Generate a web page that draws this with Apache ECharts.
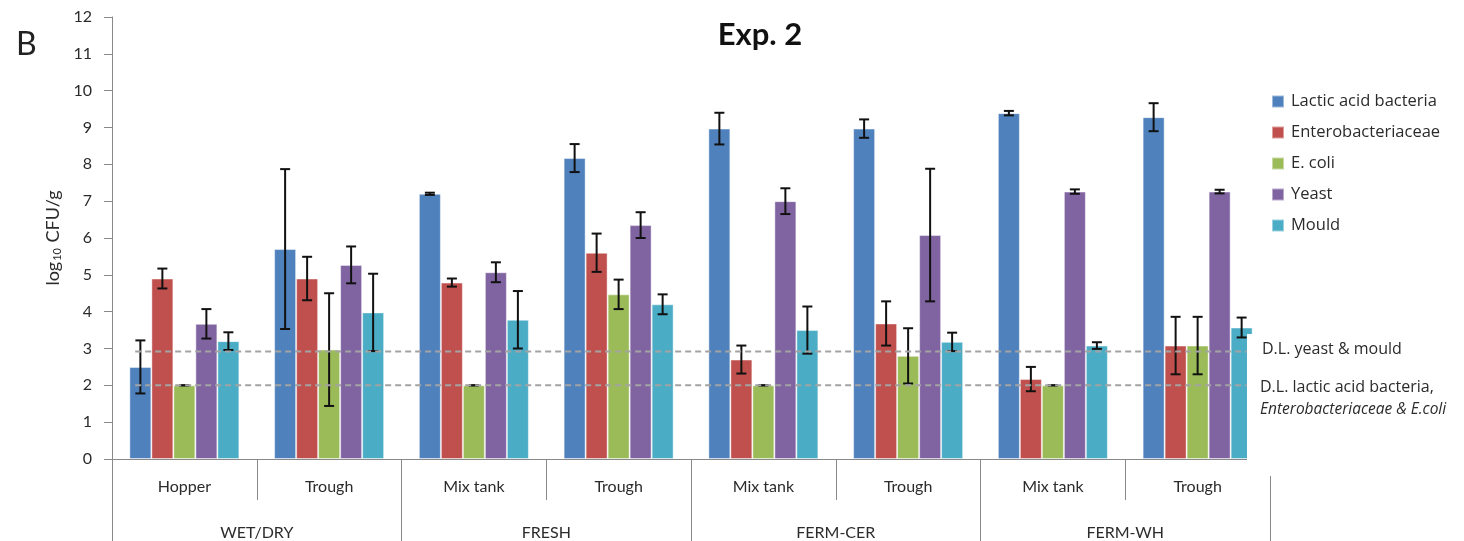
<!DOCTYPE html>
<html><head><meta charset="utf-8">
<script src="https://cdn.jsdelivr.net/npm/echarts@6/dist/echarts.min.js"></script>
<style>html,body{margin:0;padding:0;background:#fff}#c{width:1464px;height:541px}</style>
</head><body><div id="c"></div>
<script>
const categories = ['Hopper', 'Trough', 'Mix tank', 'Trough', 'Mix tank', 'Trough', 'Mix tank', 'Trough'];
const groups = ['WET/DRY', 'FRESH', 'FERM-CER', 'FERM-WH'];
const seriesNames = ['Lactic acid bacteria', 'Enterobacteriaceae', 'E. coli', 'Yeast', 'Mould'];
const lab   = [2.5, 5.7, 7.2, 8.17, 8.97, 8.97, 9.39, 9.28];
const ent   = [4.9, 4.9, 4.79, 5.6, 2.7, 3.68, 2.17, 3.08];
const ecoli = [2.0, 2.97, 2.0, 4.47, 2.0, 2.8, 2.0, 3.08];
const yeast = [3.67, 5.27, 5.07, 6.35, 7.0, 6.08, 7.26, 7.26];
const mould = [3.2, 3.98, 3.78, 4.2, 3.5, 3.18, 3.08, 3.57];
const labErr   = [0.72, 2.17, 0.03, 0.38, 0.43, 0.25, 0.06, 0.38];
const entErr   = [0.27, 0.59, 0.11, 0.52, 0.38, 0.6, 0.33, 0.78];
const ecoliErr = [0, 1.53, 0, 0.4, 0, 0.75, 0, 0.78];
const yeastErr = [0.4, 0.5, 0.27, 0.35, 0.35, 1.8, 0.06, 0.05];
const mouldErr = [0.24, 1.05, 0.78, 0.27, 0.64, 0.25, 0.09, 0.27];
const dlValues = [2.92, 2.0];
const dlRange = [0.16, 7.84];
const yTicks = [0, 12, 1];

const colors = ['#4f81bd', '#c0504d', '#9bbb59', '#8064a2', '#4bacc6'];
const values = [lab, ent, ecoli, yeast, mould];
const errs = [labErr, entErr, ecoliErr, yeastErr, mouldErr];
const FONT = 'Lato, "Liberation Sans", sans-serif';
const FONT2 = '"Open Sans", Lato, sans-serif';
const gapRatio = 0.24;
const axisGrey = '#898989';
const textCol = '#2b2b2b';

const errData = [];
values.forEach((arr, s) => arr.forEach((v, i) => errData.push([i, v - errs[s][i], v + errs[s][i], s])));

const series = values.map((arr, s) => ({
  name: seriesNames[s], type: 'bar', data: arr,
  barGap: '0%', barCategoryGap: (gapRatio * 100) + '%',
  itemStyle: { color: colors[s], borderColor: 'rgba(255,255,255,0.45)', borderWidth: 1 },
  z: 2
}));

series.push({
  type: 'custom', name: 'err', data: errData, z: 5,
  encode: { x: 0, y: [1, 2] },
  renderItem: function (params, api) {
    const cat = api.value(0), lo = api.value(1), hi = api.value(2), s = api.value(3);
    const band = api.size([1, 0])[0];
    const used = band * (1 - gapRatio);
    const bw = used / values.length;
    const c = api.coord([cat, lo]);
    const x = c[0] - used / 2 + bw * (s + 0.5);
    const yLo = c[1];
    const yHi = api.coord([cat, hi])[1];
    const cap = 5;
    const st = { stroke: '#111', lineWidth: 2 };
    return { type: 'group', children: [
      { type: 'line', shape: { x1: x, y1: yHi, x2: x, y2: yLo }, style: st },
      { type: 'line', shape: { x1: x - cap, y1: yHi, x2: x + cap, y2: yHi }, style: st },
      { type: 'line', shape: { x1: x - cap, y1: yLo, x2: x + cap, y2: yLo }, style: st }
    ]};
  }
});

dlValues.forEach(v => series.push({
  type: 'line', xAxisIndex: 2, data: [[dlRange[0], v], [dlRange[1], v]],
  symbol: 'none', silent: true, z: 6,
  lineStyle: { color: '#a3a3a3', width: 2, type: [6, 4] }
}));

const chart = echarts.init(document.getElementById('c'), null, { renderer: 'canvas' });
chart.setOption({
  animation: false,
  color: colors,
  grid: { left: 112, right: 194, top: 17, bottom: 79, containLabel: false },
  legend: {
    data: seriesNames, orient: 'vertical', left: 1271, top: 93,
    itemWidth: 12, itemHeight: 12, itemGap: 14, icon: 'rect', padding: 0,
    textStyle: { fontFamily: FONT2, fontSize: 16.5, color: textCol, padding: [0, 0, 0, 2] }
  },
  xAxis: [
    { type: 'category', data: categories, position: 'bottom',
      axisLine: { show: true, lineStyle: { color: axisGrey, width: 1 } },
      axisTick: { show: true, length: 41, interval: 0, lineStyle: { color: axisGrey } },
      axisLabel: { interval: 0, margin: 20, fontFamily: FONT, fontSize: 16, color: textCol } },
    { type: 'category', data: groups, position: 'bottom',
      axisLine: { show: false },
      axisTick: { show: true, length: 85, interval: 0, lineStyle: { color: axisGrey } },
      axisLabel: { interval: 0, margin: 66, fontFamily: FONT, fontSize: 16, color: textCol } },
    { type: 'value', min: 0, max: categories.length, show: false }
  ],
  yAxis: {
    type: 'value', min: yTicks[0], max: yTicks[1], interval: yTicks[2],
    name: '{a|log}{s|10}{a| CFU/g}', nameLocation: 'middle', nameGap: 47,
    nameTextStyle: { fontFamily: FONT, fontSize: 18, color: textCol,
      rich: { a: { fontFamily: FONT, fontSize: 18, color: textCol, verticalAlign: 'bottom' },
              s: { fontFamily: FONT, fontSize: 11, color: textCol, verticalAlign: 'bottom', padding: [0, 1, 0, 1] } } },
    axisLine: { show: true, lineStyle: { color: axisGrey } },
    axisTick: { show: true, length: 8, lineStyle: { color: axisGrey } },
    splitLine: { show: false },
    axisLabel: { margin: 20, fontFamily: FONT, fontSize: 16, color: textCol }
  },
  graphic: [
    { type: 'text', left: 16, top: 29, z: 100,
      style: { text: 'B', fontFamily: FONT, fontSize: 32, fill: '#222' } },
    { type: 'text', x: 760, y: 19, z: 100,
      style: { text: 'Exp. 2', fontFamily: FONT, fontSize: 31, fontWeight: 'bold', fill: '#111', textAlign: 'center' } },
    { type: 'rect', shape: { x: 1247, y: 334, width: 217, height: 142 }, z: 90,
      style: { fill: '#fff' } },
    { type: 'text', x: 1262, y: 341, z: 100,
      style: { text: 'D.L. yeast & mould', fontFamily: FONT2, fontSize: 16, fill: textCol } },
    { type: 'text', x: 1260, y: 379, z: 100,
      style: { text: 'D.L. lactic acid bacteria,', fontFamily: FONT2, fontSize: 16, fill: textCol } },
    { type: 'text', x: 1260, y: 402, z: 100,
      style: { text: 'Enterobacteriaceae & E.coli', fontFamily: FONT2, fontSize: 15.5, fontStyle: 'italic', fill: textCol } }
  ],
  series: series
});
</script></body></html>
